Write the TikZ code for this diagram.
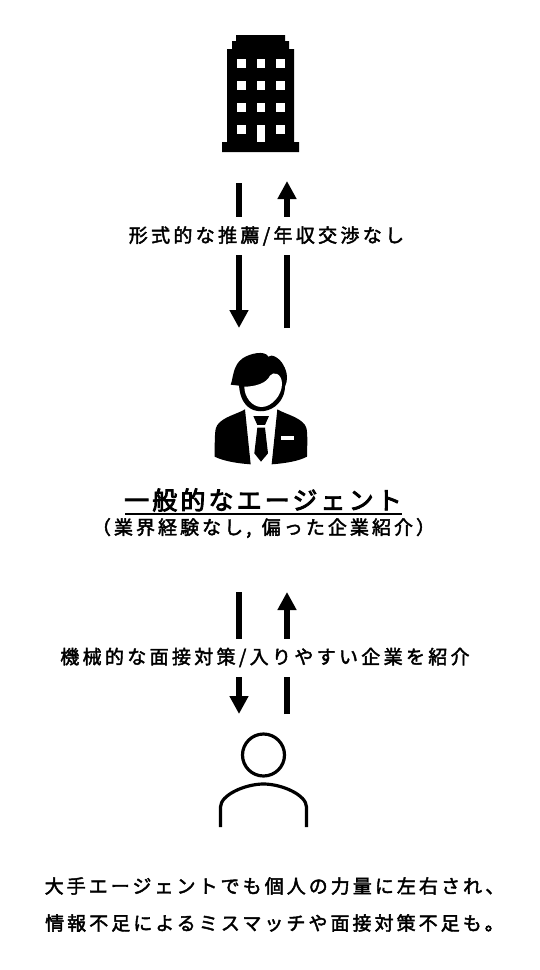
\documentclass[tikz,border=0pt]{standalone}
\usepackage{fontspec}
\usetikzlibrary{arrows.meta}
\newfontfamily\jpa[LetterSpace=16,FakeBold=2.2]{Noto Sans CJK JP}
\newfontfamily\jpc[LetterSpace=17.5,FakeBold=2.2]{Noto Sans CJK JP}
\newfontfamily\jpb[LetterSpace=12.5,FakeBold=3.5]{Noto Sans CJK JP}
\tikzset{
 x=1pt,y=-1pt,
 lab/.style={fill=white,inner xsep=0pt,inner ysep=0pt,minimum height=38pt,font=\jpc\fontsize{19}{19}\selectfont},
 txt/.style={inner sep=0pt,font=\jpa\fontsize{19}{19}\selectfont},
 title/.style={inner sep=0pt,font=\jpb\fontsize{25}{25}\selectfont},
 arr/.style={line width=6.5pt,-{Triangle[width=18pt,length=18pt]}},
 ink/.style={fill=black,draw=none},
 hole/.style={fill=white,draw=none},
 outline/.style={draw=black,line width=3.2pt,fill=none}
}
\begin{document}
\begin{tikzpicture}
\useasboundingbox[fill=white] (0,0) rectangle (540,970);
% building
\fill[ink] (236,35)--(285,35)--(285,41)--(289,41)--(289,49)--(294,49)--(294,142)--(299,142)--(299,152)--(222,152)--(222,142)--(227,142)--(227,49)--(232,49)--(232,41)--(236,41)--cycle;
\foreach \yy in {59,81,103,125}{
 \foreach \xx in {237,276}{\fill[hole] (\xx,\yy) rectangle (\xx+8.5,\yy+8.5);}
}
\foreach \yy in {59,81,103}{\fill[hole] (256.5,\yy) rectangle (265,\yy+8.5);}
\fill[hole] (256.5,125) rectangle (265,142);
% agent
\begin{scope}[shift={(200pt,-345pt)},x=0.3333pt,y=-0.3333pt]
\fill[ink] (135,193) .. controls (110,208) and (70,215) .. (52,240) .. controls (45,250) and (44,265) .. (44,335) .. controls (70,348) and (110,355) .. (152,358) -- cycle;
\fill[ink] (232,193) .. controls (257,208) and (297,215) .. (315,240) .. controls (322,250) and (323,265) .. (321,335) .. controls (297,348) and (257,355) .. (215,358) -- cycle;
\fill[ink] (92,119) .. controls (100,100) and (98,60) .. (128,40) .. controls (150,25) and (195,15) .. (205,35) .. controls (215,25) and (240,40) .. (250,60) .. controls (262,80) and (265,105) .. (255,125) .. controls (255,155) and (235,185) .. (205,195) .. controls (190,200) and (175,200) .. (160,195) .. controls (135,185) and (120,160) .. (117,122) -- cycle;
\fill[hole] (133,125) .. controls (165,125) and (200,115) .. (210,92) .. controls (220,78) and (245,85) .. (246,115) .. controls (247,150) and (215,186) .. (185,186) .. controls (155,186) and (133,155) .. (133,125) -- cycle;
\fill[hole] (243,274) rectangle (282,285);
\fill[ink] (160,213)--(207,213)--(195,240)--(172,240)--cycle;
\fill[ink] (172,248)--(195,248)--(204,325)--(183,350)--(163,325)--cycle;
\end{scope}
% person
\draw[outline] (263.5,755) circle (21);
\draw[outline] (220.5,827) -- (220.5,807) .. controls (220.5,795) and (245,784) .. (263.5,784) .. controls (282,784) and (306.5,795) .. (306.5,807) -- (306.5,827);
% connector anchors
\coordinate (a1) at (239,183); \coordinate (a2) at (239,328);
\coordinate (b1) at (287,328); \coordinate (b2) at (287,181);
\coordinate (c1) at (239,592); \coordinate (c2) at (239,714);
\coordinate (d1) at (287,714); \coordinate (d2) at (287,592);
\draw[arr] (a1) -- (a2);
\draw[arr] (b1) -- (b2);
\draw[arr] (c1) -- (c2);
\draw[arr] (d1) -- (d2);
\node[lab] (l1) at (266.5,236) {形式的な推薦/年収交渉なし};
\node[lab] (l2) at (265,657.5) {機械的な面接対策/入りやすい企業を紹介};
\node[title] (t1) at (263,500) {一般的なエージェント};
\draw[line width=1.3pt] (125,514) -- (402,514);
\node[txt] (t2) at (263.5,528) {（業界経験なし,\hspace{3pt} 偏った企業紹介）};
\node[txt] (t3) at (274.5,886) {大手エージェントでも個人の力量に左右され、};
\node[txt] (t4) at (274.5,923) {情報不足によるミスマッチや面接対策不足も。};
\end{tikzpicture}
\end{document}
